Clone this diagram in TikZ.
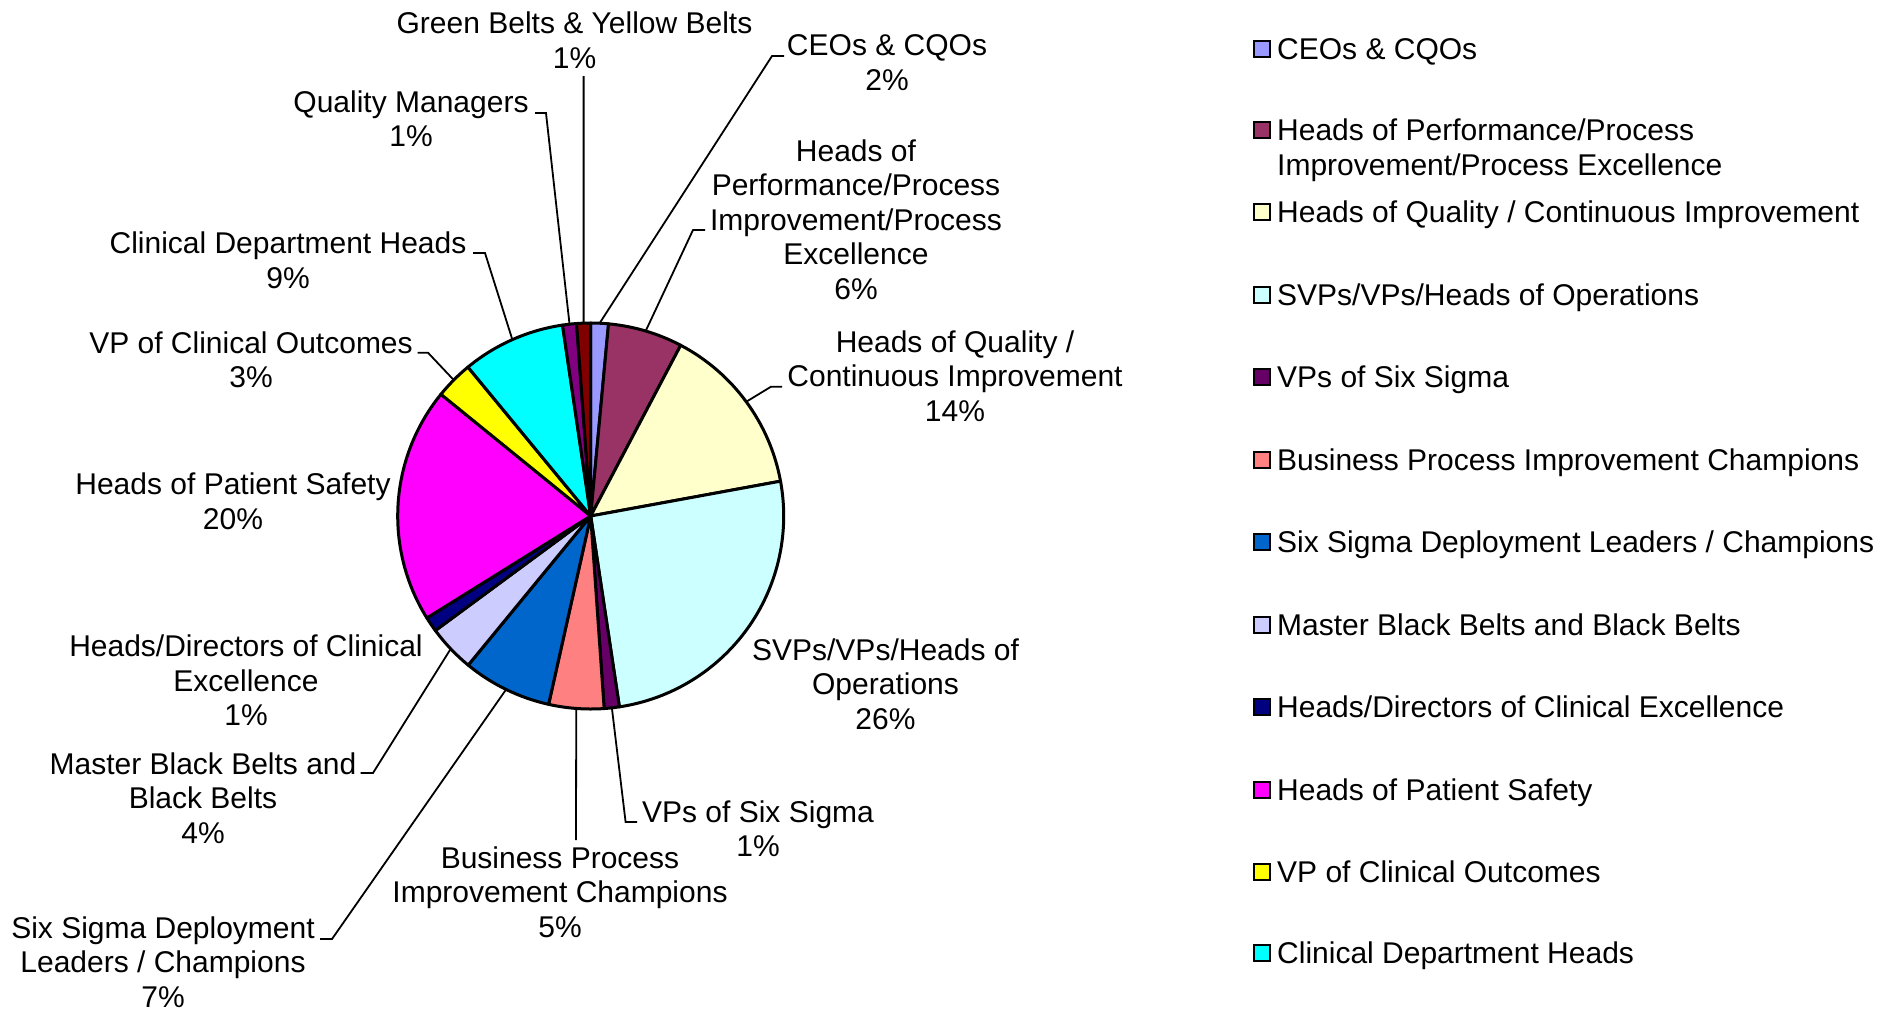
\documentclass[tikz,border=0pt]{standalone}
\usepackage{fontspec}
\setmainfont{Liberation Sans}
\definecolor{cCEO}{HTML}{9999FF}
\definecolor{cPerf}{HTML}{993366}
\definecolor{cQual}{HTML}{FFFFCC}
\definecolor{cSVP}{HTML}{CCFFFF}
\definecolor{cVPS}{HTML}{660066}
\definecolor{cBPI}{HTML}{FF8080}
\definecolor{cSSD}{HTML}{0066CC}
\definecolor{cMBB}{HTML}{CCCCFF}
\definecolor{cHDC}{HTML}{000080}
\definecolor{cHPS}{HTML}{FF00FF}
\definecolor{cVPC}{HTML}{FFFF00}
\definecolor{cCDH}{HTML}{00FFFF}
\definecolor{cQM}{HTML}{800080}
\definecolor{cGB}{HTML}{800000}
\begin{document}
\begin{tikzpicture}[x=1pt,y=-1pt,
  lbl/.style={font=\fontsize{30}{34.5}\selectfont, inner sep=0pt, align=center, anchor=base},
  legtext/.style={font=\fontsize{30}{34.5}\selectfont, inner sep=0pt, align=left, anchor=base west},
  leader/.style={draw=black, line width=1.8pt},
  slice/.style={draw=black, line width=3pt, line join=round},
  key/.style={draw=black, line width=2pt, minimum width=16pt, minimum height=16pt, inner sep=0pt, anchor=center}]
\useasboundingbox (0,0) rectangle (1894,1009);
\fill[white] (0,0) rectangle (1894,1009);
% pie
\coordinate (C) at (590.7,516);
\foreach \a/\b/\c in {-90/-84.7/cCEO, -84.7/-62.2/cPerf, -62.2/-10.4/cQual, -10.4/81.45/cSVP,
  81.45/86.0/cVPS, 86.0/102.6/cBPI, 102.6/129.4/cSSD, 129.4/143.6/cMBB, 143.6/148.1/cHDC,
  148.1/219.1/cHPS, 219.1/230.5/cVPC, 230.5/261.6/cCDH, 261.6/265.8/cQM, 265.8/270/cGB}
  \filldraw[slice, fill=\c] (C) -- +(\a:193) arc[start angle=\a, end angle=\b, radius=193] -- cycle;
% edge points of leaders
\path (C) ++(-87.35:193) coordinate (eCEO);
\path (C) ++(-73.45:193) coordinate (ePerf);
\path (C) ++(-36.3:193) coordinate (eQual);
\path (C) ++(83.7:193) coordinate (eVPS);
\path (C) ++(94.3:193) coordinate (eBPI);
\path (C) ++(116:193) coordinate (eSSD);
\path (C) ++(136.5:193) coordinate (eMBB);
\path (C) ++(224.8:193) coordinate (eVPC);
\path (C) ++(246.05:193) coordinate (eCDH);
\path (C) ++(263.7:193) coordinate (eQM);
\path (C) ++(267.9:193) coordinate (eGB);
% labels (anchored at the baseline of their last line)
\node[lbl] (lGB) at (574.5,68.3) {Green Belts \& Yellow Belts\\1\%};
\node[lbl] (lQM) at (411,146.7) {Quality Managers\\1\%};
\node[lbl] (lCDH) at (288,288) {Clinical Department Heads\\9\%};
\node[lbl] (lVPC) at (251,387.5) {VP of Clinical Outcomes\\3\%};
\node[lbl] (lHPS) at (233,529) {Heads of Patient Safety\\20\%};
\node[lbl] (lHDC) at (246,725.5) {Heads/Directors of Clinical\\Excellence\\1\%};
\node[lbl] (lMBB) at (203,843) {Master Black Belts and\\Black Belts\\4\%};
\node[lbl] (lSSD) at (163,1007) {Six Sigma Deployment\\Leaders / Champions\\7\%};
\node[lbl] (lBPI) at (560,937) {Business Process\\Improvement Champions\\5\%};
\node[lbl] (lVPS) at (758,856.7) {VPs of Six Sigma\\1\%};
\node[lbl] (lSVP) at (885.5,729.3) {SVPs/VPs/Heads of\\Operations\\26\%};
\node[lbl] (lQual) at (955,421) {Heads of Quality /\\Continuous Improvement\\14\%};
\node[lbl] (lPerf) at (856,299.3) {Heads of\\Performance/Process\\Improvement/Process\\Excellence\\6\%};
\node[lbl] (lCEO) at (887,90) {CEOs \& CQOs\\2\%};
% leader elbows and ends
\coordinate (tGB) at (583.6,76);
\coordinate (kQM) at (546,113);   \coordinate (tQM) at (535,113);
\coordinate (kCDH) at (485,253);  \coordinate (tCDH) at (473,253);
\coordinate (kVPC) at (428,352.7); \coordinate (tVPC) at (417.5,352.7);
\coordinate (kMBB) at (373,773);  \coordinate (tMBB) at (360.6,773);
\coordinate (kSSD) at (332,939);  \coordinate (tSSD) at (320,939);
\coordinate (tBPI) at (576,840);
\coordinate (kVPS) at (625.6,822); \coordinate (tVPS) at (637,822);
\coordinate (kQual) at (771,386.7); \coordinate (tQual) at (782,386.7);
\coordinate (kPerf) at (693,230); \coordinate (tPerf) at (705,230);
\coordinate (kCEO) at (772,56);   \coordinate (tCEO) at (784,56);
\draw[leader] (eGB) -- (tGB);
\draw[leader] (eQM) -- (kQM) -- (tQM);
\draw[leader] (eCDH) -- (kCDH) -- (tCDH);
\draw[leader] (eVPC) -- (kVPC) -- (tVPC);
\draw[leader] (eMBB) -- (kMBB) -- (tMBB);
\draw[leader] (eSSD) -- (kSSD) -- (tSSD);
\draw[leader] (eBPI) -- (tBPI);
\draw[leader] (eVPS) -- (kVPS) -- (tVPS);
\draw[leader] (eQual) -- (kQual) -- (tQual);
\draw[leader] (ePerf) -- (kPerf) -- (tPerf);
\draw[leader] (eCEO) -- (kCEO) -- (tCEO);
% legend
\foreach \n/\c/\y/\b/\t in {1/cCEO/59/59/{CEOs \& CQOs},
  2/cPerf/140/175/{Heads of Performance/Process\\Improvement/Process Excellence},
  3/cQual/222/222/{Heads of Quality / Continuous Improvement},
  4/cSVP/305/305/{SVPs/VPs/Heads of Operations},
  5/cVPS/387/387/{VPs of Six Sigma},
  6/cBPI/470/470/{Business Process Improvement Champions},
  7/cSSD/552/552/{Six Sigma Deployment Leaders / Champions},
  8/cMBB/635/635/{Master Black Belts and Black Belts},
  9/cHDC/717/717/{Heads/Directors of Clinical Excellence},
  10/cHPS/800/800/{Heads of Patient Safety},
  11/cVPC/882/882/{VP of Clinical Outcomes},
  12/cCDH/963/963/{Clinical Department Heads}}
{
  \node[key, fill=\c] (k\n) at (1262,\y-10.5) {};
  \node[legtext] (t\n) at (1277,\b) {\t};
}
\end{tikzpicture}
\end{document}
